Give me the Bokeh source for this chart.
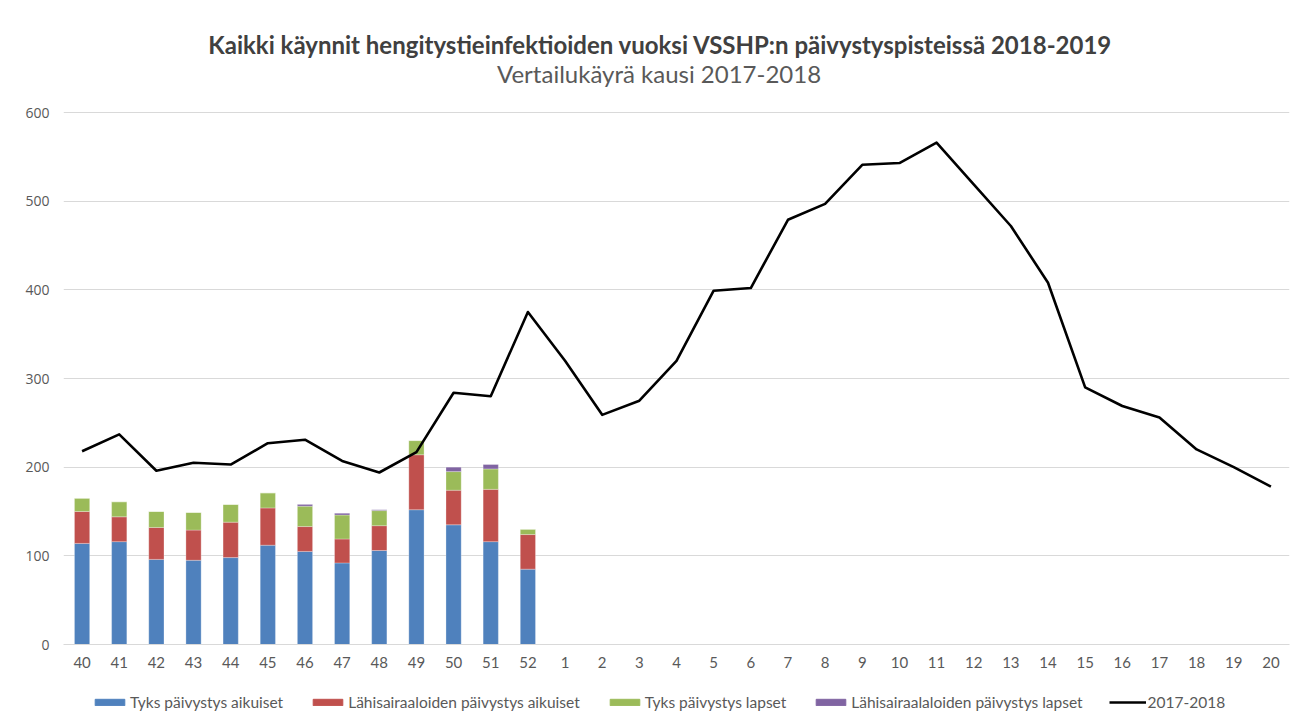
from bokeh.plotting import figure
from bokeh.layouts import column
from bokeh.models import (FactorRange, ColumnDataSource, Label, Legend, LegendItem,
                          FixedTicker, Range1d)
from bokeh.embed import file_html
from bokeh.resources import INLINE

weeks = ["40", "41", "42", "43", "44", "45", "46", "47", "48", "49", "50", "51", "52",
         "1", "2", "3", "4", "5", "6", "7", "8", "9", "10", "11", "12", "13", "14",
         "15", "16", "17", "18", "19", "20"]
bar_weeks = ["40", "41", "42", "43", "44", "45", "46", "47", "48", "49", "50", "51", "52"]
tyks_aikuiset = [114, 116, 96, 95, 98, 112, 105, 92, 106, 152, 135, 116, 85]
lahi_aikuiset = [36, 28, 36, 34, 40, 42, 28, 27, 28, 62, 39, 59, 39]
tyks_lapset = [15, 17, 18, 20, 20, 17, 23, 27, 17, 16, 21, 23, 6]
lahi_lapset = [0, 0, 0, 0, 0, 0, 2, 2, 1, 0, 5, 5, 0]
kausi_2017_2018 = [218, 237, 196, 205, 203, 227, 231, 207, 194, 217, 284, 280, 375,
                   320, 259, 275, 320, 399, 402, 479, 497, 541, 543, 566, 519, 472, 408,
                   290, 269, 256, 220, 200, 178]
series_names = ["Tyks päivystys aikuiset", "Lähisairaaloiden päivystys aikuiset",
                "Tyks päivystys lapset", "Lähisairaalaloiden päivystys lapset"]
line_name = "2017-2018"
y_ticks = [0, 100, 200, 300, 400, 500, 600]
title_text = "Kaikki käynnit hengitystieinfektioiden vuoksi VSSHP:n päivystyspisteissä 2018-2019"
subtitle_text = "Vertailukäyrä kausi 2017-2018"

colors = ["#4F81BD", "#C0504D", "#9BBB59", "#8064A2"]
keys = ["a", "b", "c", "d"]

src = ColumnDataSource(dict(x=bar_weeks, a=tyks_aikuiset, b=lahi_aikuiset,
                            c=tyks_lapset, d=lahi_lapset))

W = 1298
H_MAIN, H_LEG = 680, 44
top_border, bottom_border = 20, 36
frame_h = H_MAIN - top_border - bottom_border
y_end = frame_h * 600.0 / 532.0   # 600 units span 532 px

p = figure(width=W, height=H_MAIN, x_range=FactorRange(*weeks), y_range=Range1d(0, y_end),
           output_backend="svg", toolbar_location=None,
           min_border_left=63, min_border_right=9, min_border_top=top_border,
           min_border_bottom=bottom_border)

bars = p.vbar_stack(keys, x="x", width=0.41, source=src, color=colors,
                    line_color="white", line_alpha=0.35, line_width=0.8)
line = p.line(x=weeks, y=kausi_2017_2018, line_color="black", line_width=2.6,
              line_join="round")

p.outline_line_color = None
p.xgrid.grid_line_color = None
p.ygrid.grid_line_color = "#D9D9D9"
p.ygrid.grid_line_width = 1
p.yaxis.ticker = FixedTicker(ticks=y_ticks)
p.yaxis.axis_line_color = None
p.yaxis.major_tick_line_color = None
p.yaxis.minor_tick_line_color = None
p.yaxis.major_tick_out = 0
p.yaxis.major_label_standoff = 14
p.yaxis.major_label_text_font = "Open Sans"
p.yaxis.major_label_text_font_size = "14px"
p.yaxis.major_label_text_color = "#595959"

p.xaxis.axis_line_color = "#D9D9D9"
p.xaxis.major_tick_line_color = None
p.xaxis.minor_tick_line_color = None
p.xaxis.major_tick_out = 0
p.xaxis.major_label_standoff = 12
p.xaxis.major_label_text_font = "Lato"
p.xaxis.major_label_text_font_size = "15px"
p.xaxis.major_label_text_color = "#595959"

p.add_layout(Label(x=16.07, y=676.7, text=title_text, text_align="center",
                   text_baseline="middle", text_font="Lato", text_font_style="bold",
                   text_font_size="24px", text_color="#404040"))
p.add_layout(Label(x=16.03, y=644, text=subtitle_text, text_align="center",
                   text_baseline="middle", text_font="Lato", text_font_size="24px",
                   text_color="#595959"))

# legend strip below the chart (its sample glyphs sit outside the visible range)
pl = figure(width=W, height=H_LEG, x_range=Range1d(0, 1), y_range=Range1d(0, 1),
            x_axis_type=None, y_axis_type=None, output_backend="svg",
            toolbar_location=None, min_border_left=0, min_border_right=0,
            min_border_top=0, min_border_bottom=0)
pl.outline_line_color = None
pl.xgrid.grid_line_color = None
pl.ygrid.grid_line_color = None
hidden = ColumnDataSource(dict(x=[-10.0, -9.0], y=[-10.0, -10.0]))
leg_renderers = [pl.vbar(x="x", top="y", bottom=-11, width=0.1, source=hidden, color=c)
                 for c in colors]
leg_renderers.append(pl.line(x="x", y="y", source=hidden, line_color="black",
                             line_width=2.6))
labels = series_names + [line_name]
items = [LegendItem(label=labels[i], renderers=[leg_renderers[i]]) for i in range(5)]
legend = Legend(items=items, orientation="horizontal", location=(28, 12),
                padding=0, margin=0, spacing=26, glyph_width=37, glyph_height=8,
                label_height=20, label_standoff=2, label_text_font="Lato",
                label_text_font_size="15.5px", label_text_color="#595959",
                border_line_color=None, background_fill_alpha=0)
pl.add_layout(legend, "center")

layout = column(p, pl, spacing=0)
open("out.html", "w").write(file_html(layout, INLINE))
